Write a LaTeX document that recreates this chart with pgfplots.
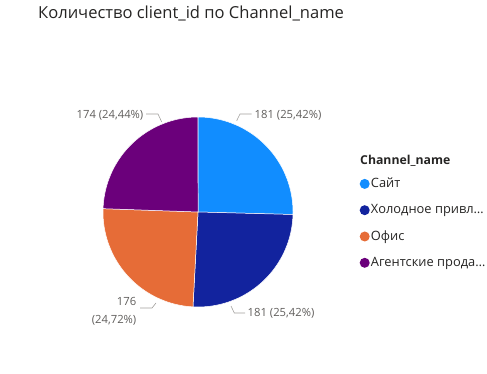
\documentclass[border=0pt]{standalone}
\usepackage{pgfplots}
\pgfplotsset{compat=1.18}
\usepackage{fontspec}
\setmainfont{Open Sans}
\definecolor{cSite}{HTML}{118DFF}
\definecolor{cCold}{HTML}{12239E}
\definecolor{cOffice}{HTML}{E66C37}
\definecolor{cAgent}{HTML}{6B007B}
\definecolor{lblgray}{HTML}{605E5C}
\definecolor{linegray}{HTML}{A19F9D}
\definecolor{txtdark}{HTML}{252423}
% data: client_id count per channel
\def\vA{181}\def\vB{181}\def\vC{176}\def\vD{174}
\pgfmathsetmacro{\tot}{\vA+\vB+\vC+\vD}
\pgfmathsetmacro{\aA}{90}
\pgfmathsetmacro{\aB}{\aA-360*(\vA/\tot)}
\pgfmathsetmacro{\aC}{\aB-360*(\vB/\tot)}
\pgfmathsetmacro{\aD}{\aC-360*(\vC/\tot)}
\pgfmathsetmacro{\aE}{\aD-360*(\vD/\tot)}
\def\cx{198}\def\cy{162}\def\rr{95}
\begin{document}
\begin{tikzpicture}
\useasboundingbox (0,0) rectangle (487bp,374bp);
\begin{axis}[
  at={(0,0)}, anchor=south west,
  width=487bp, height=374bp, scale only axis,
  xmin=0, xmax=487, ymin=0, ymax=374,
  hide axis, clip=false,
  legend style={at={(axis cs:359.5,196.5)}, anchor=north west, draw=none, fill=none,
    font=\fontsize{12.9}{15}\selectfont\color{txtdark},
    nodes={inner sep=0pt, text height=10bp, text depth=3bp},
    row sep=13.3bp, inner sep=0pt},
  legend cell align=left,
  legend image code/.code={\fill[#1, draw=none] (4bp,0.3bp) circle (5bp); \path (0bp,0bp) (10bp,0bp);},
]
\addplot[fill=cSite, draw=white, line width=0.5pt, domain=\aB:\aA, samples=60, variable=\t]
  ({\cx+\rr*cos(\t)},{\cy+\rr*sin(\t)}) -- (axis cs:\cx,\cy) -- cycle;
\addlegendentry{Сайт}
\addplot[fill=cCold, draw=white, line width=0.5pt, domain=\aC:\aB, samples=60, variable=\t]
  ({\cx+\rr*cos(\t)},{\cy+\rr*sin(\t)}) -- (axis cs:\cx,\cy) -- cycle;
\addlegendentry{Холодное привл…}
\addplot[fill=cOffice, draw=white, line width=0.5pt, domain=\aD:\aC, samples=60, variable=\t]
  ({\cx+\rr*cos(\t)},{\cy+\rr*sin(\t)}) -- (axis cs:\cx,\cy) -- cycle;
\addlegendentry{Офис}
\addplot[fill=cAgent, draw=white, line width=0.5pt, domain=\aE:\aD, samples=60, variable=\t]
  ({\cx+\rr*cos(\t)},{\cy+\rr*sin(\t)}) -- (axis cs:\cx,\cy) -- cycle;
\addlegendentry{Агентские прода…}

% title
\node[anchor=base west, inner sep=0pt, text=txtdark, font=\fontsize{16.6}{19}\selectfont] at (axis cs:38,355.7) {Количество client\_id по Channel\_name};
% legend title
\node[anchor=west, inner sep=0pt, text=txtdark, font=\fontsize{12.3}{14}\selectfont\bfseries] at (axis cs:360,213) {Channel\_name};

% data labels
\draw[linegray, line width=0.6pt] (axis cs:236.7,253.3) -- (axis cs:240,260) -- (axis cs:251.7,260);
\node[anchor=west, inner sep=0pt, text=lblgray, font=\fontsize{11.3}{13}\selectfont] at (axis cs:254.5,258.5) {181 (25,42\%)};
\draw[linegray, line width=0.6pt] (axis cs:161.7,252) -- (axis cs:158,260) -- (axis cs:146,260);
\node[anchor=east, inner sep=0pt, text=lblgray, font=\fontsize{11.3}{13}\selectfont] at (axis cs:143.5,258.5) {174 (24,44\%)};
\draw[linegray, line width=0.6pt] (axis cs:231,68) -- (axis cs:234.3,61) -- (axis cs:245,61);
\node[anchor=west, inner sep=0pt, text=lblgray, font=\fontsize{11.3}{13}\selectfont] at (axis cs:247.5,60.5) {181 (25,42\%)};
\draw[linegray, line width=0.6pt] (axis cs:156,71) -- (axis cs:152,66) -- (axis cs:140,66);
\node[anchor=east, inner sep=0pt, text=lblgray, align=right, font=\fontsize{11.3}{18}\selectfont] at (axis cs:136.5,63) {176\\(24,72\%)};
\end{axis}
\end{tikzpicture}
\end{document}
